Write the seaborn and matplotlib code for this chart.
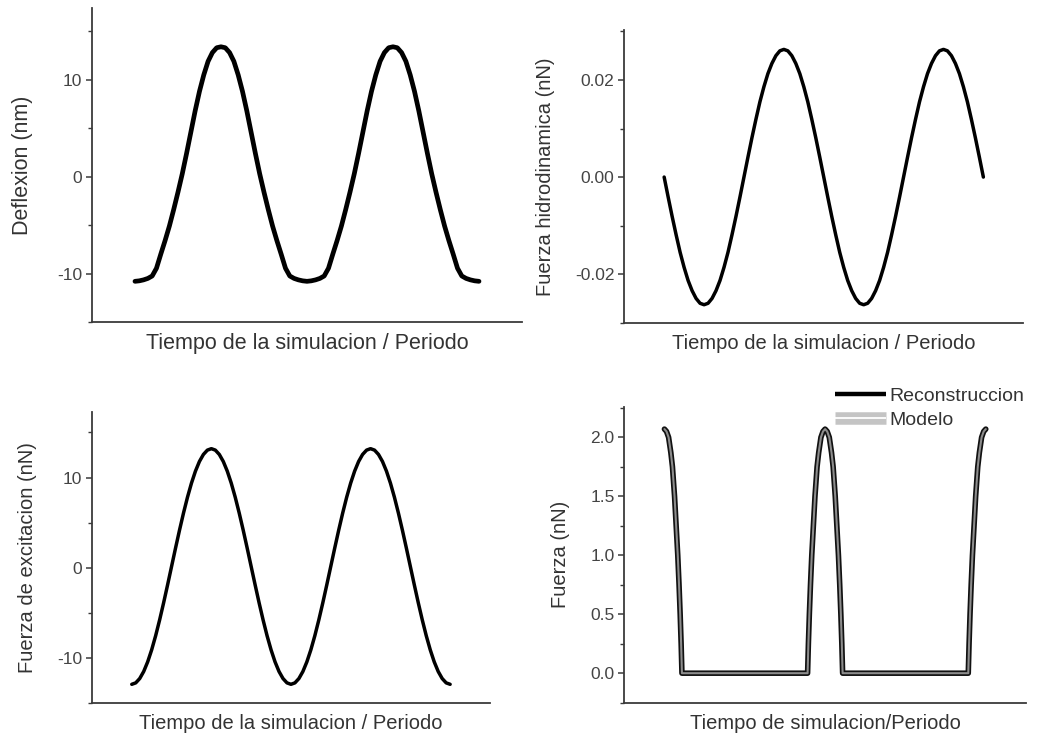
import numpy as np
import pandas as pd
import seaborn as sns
import matplotlib
matplotlib.use("Agg")
import matplotlib.pyplot as plt
from matplotlib.lines import Line2D
from matplotlib.ticker import MultipleLocator, FormatStrFormatter

### datos (tiempo en periodos)
tiempo = [0.0, 0.025, 0.05, 0.075, 0.1, 0.125, 0.15, 0.175, 0.2, 0.225, 0.25, 0.275, 0.3, 0.325, 0.35,
          0.375, 0.4, 0.425, 0.45, 0.475, 0.5, 0.525, 0.55, 0.575, 0.6, 0.625, 0.65, 0.675, 0.7, 0.725,
          0.75, 0.775, 0.8, 0.825, 0.85, 0.875, 0.9, 0.925, 0.95, 0.975, 1.0, 1.025, 1.05, 1.075, 1.1,
          1.125, 1.15, 1.175, 1.2, 1.225, 1.25, 1.275, 1.3, 1.325, 1.35, 1.375, 1.4, 1.425, 1.45, 1.475,
          1.5, 1.525, 1.55, 1.575, 1.6, 1.625, 1.65, 1.675, 1.7, 1.725, 1.75, 1.775, 1.8, 1.825, 1.85,
          1.875, 1.9, 1.925, 1.95, 1.975, 2.0]

deflexion = [-10.8, -10.75, -10.65, -10.5, -10.25, -9.45, -8.0, -6.6, -5.1, -3.4, -1.6, 0.3, 2.4, 4.6, 6.8,
             8.8, 10.5, 11.9, 12.8, 13.3, 13.4, 13.3, 12.8, 11.9, 10.5, 8.8, 6.8, 4.6, 2.4, 0.3,
             -1.6, -3.4, -5.1, -6.6, -8.0, -9.45, -10.25, -10.5, -10.65, -10.75, -10.8,
             -10.75, -10.65, -10.5, -10.25, -9.45, -8.0, -6.6, -5.1, -3.4, -1.6, 0.3, 2.4, 4.6, 6.8,
             8.8, 10.5, 11.9, 12.8, 13.3, 13.4, 13.3, 12.8, 11.9, 10.5, 8.8, 6.8, 4.6, 2.4, 0.3,
             -1.6, -3.4, -5.1, -6.6, -8.0, -9.45, -10.25, -10.5, -10.65, -10.75, -10.8]

f_hidro = [0.0, -0.0041, -0.0081, -0.0119, -0.0155, -0.0186, -0.0213, -0.0234, -0.0250, -0.0260,
           -0.0263, -0.0260, -0.0250, -0.0234, -0.0213, -0.0186, -0.0155, -0.0119, -0.0081, -0.0041,
           0.0, 0.0041, 0.0081, 0.0119, 0.0155, 0.0186, 0.0213, 0.0234, 0.0250, 0.0260,
           0.0263, 0.0260, 0.0250, 0.0234, 0.0213, 0.0186, 0.0155, 0.0119, 0.0081, 0.0041, 0.0,
           -0.0041, -0.0081, -0.0119, -0.0155, -0.0186, -0.0213, -0.0234, -0.0250, -0.0260,
           -0.0263, -0.0260, -0.0250, -0.0234, -0.0213, -0.0186, -0.0155, -0.0119, -0.0081, -0.0041,
           0.0, 0.0041, 0.0081, 0.0119, 0.0155, 0.0186, 0.0213, 0.0234, 0.0250, 0.0260,
           0.0263, 0.0260, 0.0250, 0.0234, 0.0213, 0.0186, 0.0155, 0.0119, 0.0081, 0.0041, 0.0]

f_excit = [-12.9, -12.74, -12.26, -11.48, -10.41, -9.08, -7.52, -5.77, -3.88, -1.89, 0.15, 2.19, 4.18,
           6.07, 7.82, 9.38, 10.71, 11.78, 12.56, 13.04, 13.2, 13.04, 12.56, 11.78, 10.71, 9.38, 7.82,
           6.07, 4.18, 2.19, 0.15, -1.89, -3.88, -5.77, -7.52, -9.08, -10.41, -11.48, -12.26, -12.74, -12.9,
           -12.74, -12.26, -11.48, -10.41, -9.08, -7.52, -5.77, -3.88, -1.89, 0.15, 2.19, 4.18,
           6.07, 7.82, 9.38, 10.71, 11.78, 12.56, 13.04, 13.2, 13.04, 12.56, 11.78, 10.71, 9.38, 7.82,
           6.07, 4.18, 2.19, 0.15, -1.89, -3.88, -5.77, -7.52, -9.08, -10.41, -11.48, -12.26, -12.74, -12.9]

tiempo_f = [0.0, 0.013, 0.026, 0.04, 0.05, 0.063, 0.073, 0.083, 0.091, 0.098, 0.104, 0.109,
            0.891, 0.896, 0.902, 0.909, 0.917, 0.927, 0.937, 0.95, 0.96, 0.974, 0.987, 1.0,
            1.013, 1.026, 1.04, 1.05, 1.063, 1.073, 1.083, 1.091, 1.098, 1.104, 1.109,
            1.891, 1.896, 1.902, 1.909, 1.917, 1.927, 1.937, 1.95, 1.96, 1.974, 1.987, 2.0]
fuerza = [2.07, 2.05, 2.0, 1.87, 1.75, 1.5, 1.25, 1.0, 0.75, 0.5, 0.25, 0.0,
          0.0, 0.25, 0.5, 0.75, 1.0, 1.25, 1.5, 1.75, 1.87, 2.0, 2.05, 2.07,
          2.05, 2.0, 1.87, 1.75, 1.5, 1.25, 1.0, 0.75, 0.5, 0.25, 0.0,
          0.0, 0.25, 0.5, 0.75, 1.0, 1.25, 1.5, 1.75, 1.87, 2.0, 2.05, 2.07]

xlabel_1 = "Tiempo de la simulacion / Periodo"
xlabel_4 = "Tiempo de simulacion/Periodo"

sns.set_style("ticks")
plt.rcParams['font.family'] = ['Liberation Sans', 'DejaVu Sans']
plt.rcParams['axes.unicode_minus'] = False
plt.rcParams['axes.edgecolor'] = '#3a3a3a'
plt.rcParams['xtick.color'] = '#3a3a3a'
plt.rcParams['ytick.color'] = '#3a3a3a'

fig = plt.figure(figsize=(10.38, 7.42), dpi=100)
ax1 = fig.add_axes([0.0886, 0.566, 0.4143, 0.4232])
ax2 = fig.add_axes([0.6014, 0.5651, 0.3844, 0.3945])
ax3 = fig.add_axes([0.0886, 0.0522, 0.3834, 0.393])
ax4 = fig.add_axes([0.6014, 0.053, 0.387, 0.3989])

sns.lineplot(x=tiempo, y=deflexion, ax=ax1, color='black', linewidth=3.4, estimator=None)
sns.lineplot(x=tiempo, y=f_hidro, ax=ax2, color='black', linewidth=2.5, estimator=None)
sns.lineplot(x=tiempo, y=f_excit, ax=ax3, color='black', linewidth=2.5, estimator=None)
sns.lineplot(x=tiempo_f, y=fuerza, ax=ax4, color='#111111', linewidth=4.0, estimator=None)
sns.lineplot(x=tiempo_f, y=fuerza, ax=ax4, color='#8c8c8c', linewidth=1.5, estimator=None)

ax1.set_ylim(-15, 17.4)
ax2.set_ylim(-0.030, 0.0303)
ax3.set_ylim(-15, 17.3)
ax4.set_ylim(-0.25, 2.26)

ax1.yaxis.set_major_locator(MultipleLocator(10))
ax1.yaxis.set_minor_locator(MultipleLocator(5))
ax3.yaxis.set_major_locator(MultipleLocator(10))
ax3.yaxis.set_minor_locator(MultipleLocator(5))
ax2.yaxis.set_major_locator(MultipleLocator(0.02))
ax2.yaxis.set_minor_locator(MultipleLocator(0.01))
ax2.yaxis.set_major_formatter(FormatStrFormatter('%.2f'))
ax4.yaxis.set_major_locator(MultipleLocator(0.5))
ax4.yaxis.set_minor_locator(MultipleLocator(0.25))
ax4.yaxis.set_major_formatter(FormatStrFormatter('%.1f'))

labels = [("Deflexion (nm)", xlabel_1, 15.5, -0.137, -0.035),
          ("Fuerza hidrodinamica (nN)", xlabel_1, 14.5, -0.174, -0.039),
          ("Fuerza de excitacion (nN)", xlabel_1, 14.5, -0.138, -0.037),
          ("Fuerza (nN)", xlabel_4, 14.5, -0.135, -0.038)]

for ax, (yl, xl, fs, ypos, xpos) in zip([ax1, ax2, ax3, ax4], labels):
    ax.set_xlim(-0.25, 2.25)
    ax.set_xticks([])
    sns.despine(ax=ax)
    for s in ['left', 'bottom']:
        ax.spines[s].set_linewidth(1.3)
    ax.tick_params(axis='y', which='major', length=4, width=1.1, labelsize=12.5,
                   labelcolor='#444444', pad=3)
    ax.tick_params(axis='y', which='minor', length=3, width=1.0)
    ax.set_ylabel(yl, fontsize=fs, color='#333333')
    ax.set_xlabel(xl, fontsize=fs, color='#333333')
    ax.yaxis.set_label_coords(ypos, 0.5)
    ax.xaxis.set_label_coords(0.5, xpos)

h_recon = Line2D([], [], color='black', linewidth=3.2, solid_capstyle='butt')
h_mod = (Line2D([], [], color='#c4c4c4', linewidth=9, solid_capstyle='butt'),
         Line2D([], [], color='white', linewidth=1.3, solid_capstyle='butt'))
ax4.legend([h_recon, h_mod], ["Reconstruccion", "Modelo"], loc='upper left',
           bbox_to_anchor=(0.525, 1.066), frameon=False, fontsize=14, handlelength=2.6,
           handletextpad=0.2, labelspacing=0.35, borderaxespad=0, borderpad=0,
           labelcolor='#333333')

fig.savefig("out.png", dpi=100)
